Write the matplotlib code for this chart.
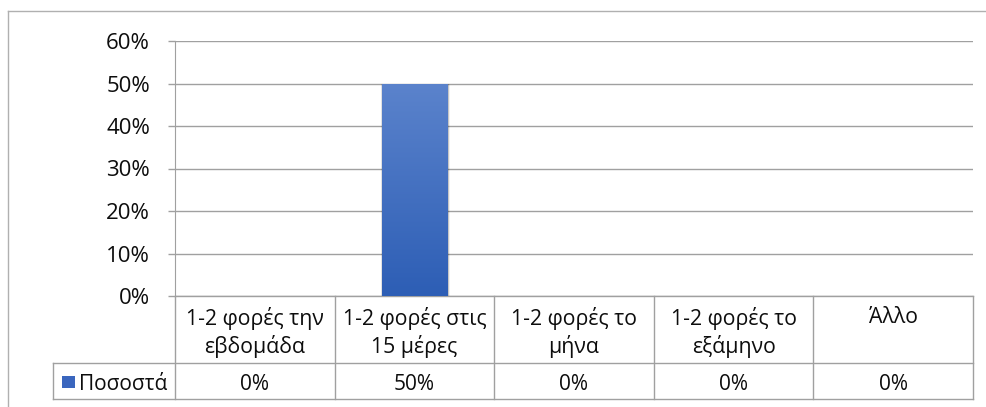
import numpy as np
import matplotlib.pyplot as plt
from matplotlib.colors import LinearSegmentedColormap
from matplotlib.patches import Rectangle
from matplotlib.lines import Line2D
import matplotlib.transforms as mtransforms

plt.rcParams['font.family'] = ['Open Sans', 'DejaVu Sans']

categories = ['1-2 φορές την\nεβδομάδα', '1-2 φορές στις\n15 μέρες', '1-2 φορές το\nμήνα',
              '1-2 φορές το\nεξάμηνο', 'Άλλο']
values = [0, 50, 0, 0, 0]
value_labels = ['0%', '50%', '0%', '0%', '0%']
series_name = 'Ποσοστά'
yticks = [0, 10, 20, 30, 40, 50, 60]

W, H = 987, 407
fig = plt.figure(figsize=(W / 100, H / 100), dpi=100)
ax = fig.add_axes([175 / W, (H - 296) / H, 798 / W, 255 / H])

grid_c = '#A0A0A0'
txt_c = '#0d0d0d'

x = np.arange(len(categories))
ax.set_xlim(-0.5, len(categories) - 0.5)
ax.set_ylim(0, 60)
ax.set_yticks(yticks)
ax.set_yticklabels([f'{t}%' for t in yticks], fontsize=16, color=txt_c)
ax.tick_params(axis='y', length=5, width=1, color=grid_c, pad=13)
ax.set_xticks([])
for s in ['top', 'right', 'bottom']:
    ax.spines[s].set_visible(False)
ax.spines['left'].set_color(grid_c)
ax.grid(axis='y', color=grid_c, linewidth=1)
ax.set_axisbelow(True)

# bars with gradient fill and soft shadow
cmap = LinearSegmentedColormap.from_list('blue', ['#2D5EB5', '#5B83CC'])
bw = 0.41
for xi, v in zip(x, values):
    if v <= 0:
        continue
    for k in range(5, 0, -1):
        ax.bar(xi + 0.006, v + 0.25 * k / 5, width=bw + 0.02 * k / 5, bottom=-0.25 * k / 5,
               color='black', alpha=0.06, zorder=2)
    bar = ax.bar(xi, v, width=bw, color='none', zorder=3)[0]
    grad = np.linspace(0, 1, 256).reshape(-1, 1)
    im = ax.imshow(grad, cmap=cmap, aspect='auto', origin='lower',
                   extent=[xi - bw / 2, xi + bw / 2, 0, v], zorder=3)
    im.set_clip_path(bar)
ax.set_xlim(-0.5, len(categories) - 0.5)
ax.set_ylim(0, 60)

# data table below the axes
tr = mtransforms.blended_transform_factory(ax.transData, ax.transAxes)
row1 = -67 / 255
row2 = -103 / 255
leg_left = -0.5 - 122 / 159.6
n = len(categories)
line_kw = dict(color=grid_c, linewidth=1, transform=tr, clip_on=False)
ax.add_line(Line2D([-0.5, n - 0.5], [0, 0], **line_kw))
ax.add_line(Line2D([leg_left, n - 0.5], [row1, row1], **line_kw))
ax.add_line(Line2D([leg_left, n - 0.5], [row2, row2], **line_kw))
ax.add_line(Line2D([leg_left, leg_left], [row1, row2], **line_kw))
for i in range(n + 1):
    ax.add_line(Line2D([i - 0.5, i - 0.5], [0, row2], **line_kw))

for xi, c, lab in zip(x, categories, value_labels):
    ax.text(xi, -11 / 255, c, transform=tr, ha='center', va='top',
            fontsize=15.3, color=txt_c, linespacing=1.3)
    ax.text(xi, -94 / 255, lab, transform=tr, ha='center', va='baseline',
            fontsize=15, color=txt_c)

# legend key inside the table
ax.add_patch(Rectangle((leg_left + 9 / 159.6, -92 / 255), 13 / 159.6, 12 / 255,
                       transform=tr, clip_on=False, facecolor='#3A66BE', edgecolor='none'))
ax.text(leg_left + 26 / 159.6, -94 / 255, series_name, transform=tr, ha='left',
        va='baseline', fontsize=15, color=txt_c)

# outer chart border (continues beyond the image)
fig.add_artist(Line2D([8 / W, 8 / W], [0, (H - 11) / H], color='#B0B0B0', linewidth=1))
fig.add_artist(Line2D([8 / W, 1], [(H - 11) / H, (H - 11) / H], color='#B0B0B0', linewidth=1))

fig.savefig('out.png', dpi=100)
